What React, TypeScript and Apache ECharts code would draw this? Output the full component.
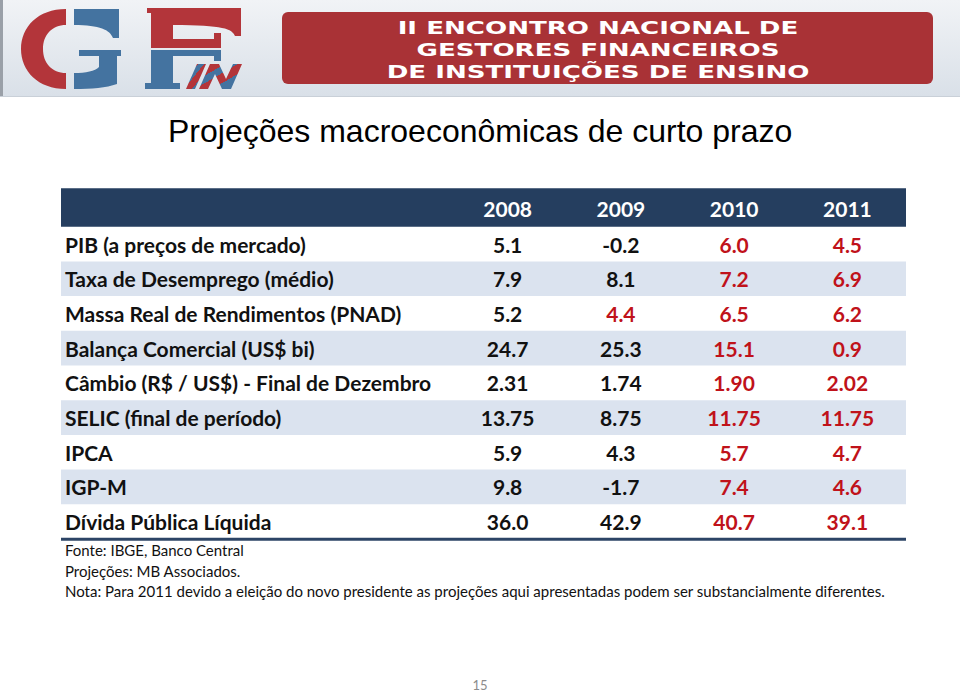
import React, { useEffect, useRef } from "react";
import * as echarts from "echarts";

const years = ["2008", "2009", "2010", "2011"];
const indicators = [
  "PIB (a preços de mercado)",
  "Taxa de Desemprego (médio)",
  "Massa Real de Rendimentos (PNAD)",
  "Balança Comercial (US$ bi)",
  "Câmbio (R$ / US$) - Final de Dezembro",
  "SELIC (final de período)",
  "IPCA",
  "IGP-M",
  "Dívida Pública Líquida",
];
const decimals = [1, 1, 1, 1, 2, 2, 1, 1, 1];
const values2008 = [5.1, 7.9, 5.2, 24.7, 2.31, 13.75, 5.9, 9.8, 36.0];
const values2009 = [-0.2, 8.1, 4.4, 25.3, 1.74, 8.75, 4.3, -1.7, 42.9];
const values2010 = [6.0, 7.2, 6.5, 15.1, 1.9, 11.75, 5.7, 7.4, 40.7];
const values2011 = [4.5, 6.9, 6.2, 0.9, 2.02, 11.75, 4.7, 4.6, 39.1];
const projected2008 = [false, false, false, false, false, false, false, false, false];
const projected2009 = [false, false, true, false, false, false, false, false, false];
const projected2010 = [true, true, true, true, true, true, true, true, true];
const projected2011 = [true, true, true, true, true, true, true, true, true];

const title = "Projeções macroeconômicas de curto prazo";
const footnotes = [
  "Fonte: IBGE, Banco Central",
  "Projeções: MB Associados.",
  "Nota: Para 2011 devido a eleição do novo presidente as projeções aqui apresentadas podem ser substancialmente diferentes.",
];
const bannerLines = ["II ENCONTRO NACIONAL DE", "GESTORES FINANCEIROS", "DE INSTITUIÇÕES DE ENSINO"];
const pageNumber = "15";

const valueColumns = [values2008, values2009, values2010, values2011];
const projectedColumns = [projected2008, projected2009, projected2010, projected2011];

const NAVY = "#253e5f";
const STRIPE = "#dbe3ef";
const RED_TXT = "#c0121a";
const LOGO_RED = "#b3353a";
const LOGO_BLUE = "#4473a0";
const TABLE_LEFT = 61;
const TABLE_RIGHT = 906;
const BODY_FONT = "Lato";

let registered = false;
function registerLogo() {
  if (registered) return;
  registered = true;
  echarts.graphic.registerShape(
    "gfRedC",
    echarts.graphic.extendPath(
      "M66 9 C38 9 21 27 21 49 C21 71 38 89 66 89 L66 73 C52 73 43 63 43 49 C43 35 52 25 66 25 Z",
      {}
    )
  );
  echarts.graphic.registerShape(
    "gfBlueGTop",
    echarts.graphic.extendPath("M74 9 L119 9 L119 38 L113 38 C110 30 100 25 74 25 Z", {})
  );
  echarts.graphic.registerShape(
    "gfBlueGBottom",
    echarts.graphic.extendPath(
      "M79 50 L121 50 L121 56 L117 56 L117 84 C106 88 92 89 74 89 L74 73 C86 73 95 71 99 67 L99 56 L79 56 Z",
      {}
    )
  );
  echarts.graphic.registerShape(
    "gfRedF",
    echarts.graphic.extendPath(
      "M147 8 L241 8 L241 36 L235 36 C232 29 224 25 173 25 L173 39 L214 39 L214 33 L221 33 L221 48 L151 48 L151 13 L147 13 Z",
      {}
    )
  );
  echarts.graphic.registerShape(
    "gfBlueF",
    echarts.graphic.extendPath(
      "M151 50 L221 50 L221 61 L214 61 L214 56 L173 56 L173 83 L180 83 L180 89 L145 89 L145 83 L151 83 Z",
      {}
    )
  );
}

export default function App() {
  const ref = useRef<HTMLDivElement>(null);

  useEffect(() => {
    if (!ref.current) return;
    registerLogo();
    const chart = echarts.init(ref.current, undefined, { renderer: "svg" });

    const cells: { col: number; row: number; text: string; proj: boolean }[] = [];
    valueColumns.forEach((col, c) => {
      col.forEach((v, r) => {
        cells.push({ col: c, row: r, text: v.toFixed(decimals[r]), proj: projectedColumns[c][r] });
      });
    });

    const stripe = new echarts.graphic.LinearGradient(0, 0, 1, 1, [
      { offset: 0, color: LOGO_RED },
      { offset: 0.3, color: LOGO_RED },
      { offset: 0.3, color: LOGO_BLUE },
      { offset: 0.45, color: LOGO_BLUE },
      { offset: 0.45, color: LOGO_RED },
      { offset: 0.65, color: LOGO_RED },
      { offset: 0.65, color: LOGO_BLUE },
      { offset: 1, color: LOGO_BLUE },
    ]);

    const option: any = {
      animation: false,
      backgroundColor: "#ffffff",
      grid: { left: 451, right: 56, top: 226.7, bottom: 155, containLabel: false },
      xAxis: {
        type: "category",
        data: years,
        position: "top",
        z: 10,
        axisLine: { show: false },
        axisTick: { show: false },
        splitLine: { show: false },
        axisLabel: {
          color: "#ffffff",
          fontFamily: BODY_FONT,
          fontWeight: "bold",
          fontSize: 21,
          margin: 8,
        },
      },
      yAxis: {
        type: "category",
        data: indicators,
        inverse: true,
        z: 10,
        axisLine: { show: false },
        axisTick: { show: false },
        splitLine: { show: false },
        axisLabel: {
          align: "left",
          margin: 451 - 65,
          color: "#111111",
          fontFamily: BODY_FONT,
          fontWeight: "bold",
          fontSize: 21,
        },
      },
      series: [
        {
          type: "custom",
          z: 1,
          silent: true,
          data: indicators.map((_, i) => [0, i]),
          renderItem: (params: any, api: any) => {
            const row = api.value(1);
            if (row % 2 === 0) return null;
            const c = api.coord([0, row]);
            const h = api.size([0, 1])[1];
            return {
              type: "rect",
              shape: { x: TABLE_LEFT, y: c[1] - h / 2, width: TABLE_RIGHT - TABLE_LEFT, height: h },
              style: { fill: STRIPE },
            };
          },
        },
        {
          type: "custom",
          z: 5,
          silent: true,
          data: cells.map((c) => [c.col, c.row]),
          renderItem: (params: any, api: any) => {
            const cell = cells[params.dataIndex];
            const p = api.coord([api.value(0), api.value(1)]);
            return {
              type: "text",
              x: p[0],
              y: p[1],
              style: {
                text: cell.text,
                fill: cell.proj ? RED_TXT : "#111111",
                fontFamily: BODY_FONT,
                fontWeight: "bold",
                fontSize: 21,
                textAlign: "center",
                textVerticalAlign: "middle",
                align: "center",
                verticalAlign: "middle",
              },
            };
          },
        },
      ],
      graphic: [
        {
          type: "rect",
          z: 0,
          shape: { x: 0, y: 0, width: 960, height: 97 },
          style: {
            fill: new echarts.graphic.LinearGradient(0, 0, 0, 1, [
              { offset: 0, color: "#f1f3f6" },
              { offset: 1, color: "#d9e0e8" },
            ]),
          },
        },
        { type: "rect", z: 0, shape: { x: 0, y: 0, width: 3, height: 97 }, style: { fill: "#9aa0a8" } },
        { type: "rect", z: 0, shape: { x: 0, y: 96, width: 960, height: 1 }, style: { fill: "#c9d0d8" } },
        { type: "gfRedC", z: 1, style: { fill: LOGO_RED } },
        { type: "gfBlueGTop", z: 1, style: { fill: LOGO_BLUE } },
        { type: "gfBlueGBottom", z: 1, style: { fill: LOGO_BLUE } },
        { type: "gfRedF", z: 1, style: { fill: LOGO_RED } },
        { type: "gfBlueF", z: 1, style: { fill: LOGO_BLUE } },
        {
          type: "polygon",
          z: 1,
          shape: { points: [[186, 89], [195, 89], [206, 64], [197, 64]] },
          style: { fill: stripe },
        },
        {
          type: "polygon",
          z: 1,
          shape: {
            points: [
              [199, 89], [208, 89], [215, 74], [222, 89], [231, 89],
              [242, 64], [233, 64], [226, 79], [219, 64], [210, 64],
            ],
          },
          style: { fill: stripe },
        },
        {
          type: "rect",
          z: 1,
          shape: { x: 282, y: 12, width: 651, height: 72, r: 6 },
          style: { fill: "#a93236" },
        },
        ...bannerLines.map((line, i) => ({
          type: "text",
          z: 2,
          x: 598,
          y: 28 + i * 22,
          scaleX: 1.45,
          style: {
            text: line,
            fill: "#ffffff",
            fontFamily: "DejaVu Sans",
            fontWeight: "bold",
            fontSize: 18,
            textAlign: "center",
            textVerticalAlign: "middle",
            align: "center",
            verticalAlign: "middle",
          },
        })),
        {
          type: "text",
          z: 2,
          x: 168,
          y: 131,
          style: {
            text: title,
            fill: "#000000",
            fontFamily: "Liberation Sans",
            fontSize: 32,
            textAlign: "left",
            textVerticalAlign: "middle",
            align: "left",
            verticalAlign: "middle",
          },
        },
        {
          type: "rect",
          z: 0,
          shape: { x: TABLE_LEFT, y: 188.3, width: TABLE_RIGHT - TABLE_LEFT, height: 38.4 },
          style: { fill: NAVY },
        },
        {
          type: "rect",
          z: 3,
          shape: { x: TABLE_LEFT, y: 537.8, width: TABLE_RIGHT - TABLE_LEFT, height: 3 },
          style: { fill: "#2c4466" },
        },
        ...footnotes.map((t, i) => ({
          type: "text",
          z: 2,
          x: 65,
          y: 550 + i * 20.5,
          style: {
            text: t,
            fill: "#111111",
            fontFamily: BODY_FONT,
            fontSize: 15,
            textAlign: "left",
            textVerticalAlign: "middle",
            align: "left",
            verticalAlign: "middle",
          },
        })),
        {
          type: "text",
          z: 2,
          x: 480,
          y: 685,
          style: {
            text: pageNumber,
            fill: "#8c8c8c",
            fontFamily: BODY_FONT,
            fontSize: 13,
            textAlign: "center",
            textVerticalAlign: "middle",
            align: "center",
            verticalAlign: "middle",
          },
        },
      ],
    };

    chart.setOption(option);
    return () => {
      chart.dispose();
    };
  }, []);

  return (
    <div
      ref={ref}
      style={{ position: "fixed", left: 0, top: 0, width: 960, height: 694, background: "#ffffff" }}
    />
  );
}
